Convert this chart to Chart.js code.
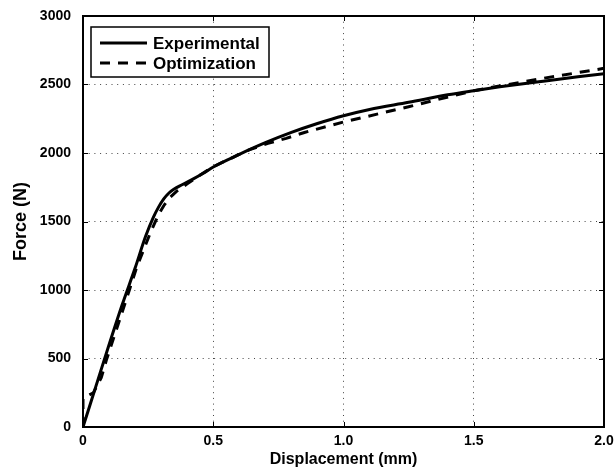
<!DOCTYPE html>
<html>
<head>
<meta charset="utf-8">
<script src="https://cdn.jsdelivr.net/npm/chart.js@4.4.0/dist/chart.umd.min.js"></script>
<style>
  html, body { margin: 0; padding: 0; background: #fff; }
  canvas { display: block; }
</style>
</head>
<body>
<canvas id="chart" width="614" height="473"></canvas>
<script>
// Experimental force-displacement curve
const expDisp  = [0, 0.05, 0.10, 0.15, 0.20, 0.24, 0.27, 0.29, 0.31, 0.33, 0.35, 0.38, 0.42, 0.46, 0.50, 0.60, 0.70, 0.80, 0.90, 1.00, 1.10, 1.25, 1.40, 1.50, 1.60, 1.75, 1.90, 2.00];
const expForce = [0, 300, 600, 890, 1160, 1390, 1530, 1605, 1665, 1708, 1737, 1768, 1807, 1850, 1898, 1990, 2075, 2150, 2215, 2272, 2318, 2370, 2425, 2455, 2483, 2520, 2556, 2578];

// Optimization (fitted) curve
const optDisp  = [0, 0, 0.04, 0.07, 0.09, 0.135, 0.178, 0.205, 0.232, 0.259, 0.29, 0.31, 0.33, 0.36, 0.40, 0.45, 0.50, 0.60, 0.64, 0.71, 0.78, 0.85, 1.00, 1.25, 1.50, 1.75, 2.00];
const optForce = [0, 210, 250, 360, 490, 750, 1000, 1160, 1290, 1420, 1550, 1615, 1668, 1722, 1775, 1840, 1900, 1990, 2025, 2070, 2107, 2150, 2226, 2338, 2455, 2540, 2618];

const seriesNames = ['Experimental', 'Optimization'];
const xTickLabels = ['0', '0.5', '1.0', '1.5', '2.0'];
const yTickLabels = ['0', '500', '1000', '1500', '2000', '2500', '3000'];

const FONT = "'Liberation Sans', Arial, Helvetica, sans-serif";
const toPoints = (xs, ys) => xs.map((x, i) => ({ x: x, y: ys[i] }));

// box around the axes, inward ticks and the framed legend
const framePlugin = {
  id: 'frame',
  afterDraw(chart) {
    const { ctx, chartArea: a, scales } = chart;
    ctx.save();
    ctx.strokeStyle = '#000';
    ctx.setLineDash([]);
    ctx.lineWidth = 1;
    ctx.beginPath();
    scales.x.ticks.forEach(t => {
      const px = Math.round(scales.x.getPixelForValue(t.value)) + 0.5;
      ctx.moveTo(px, a.bottom); ctx.lineTo(px, a.bottom - 5);
      ctx.moveTo(px, a.top); ctx.lineTo(px, a.top + 5);
    });
    scales.y.ticks.forEach(t => {
      const py = Math.round(scales.y.getPixelForValue(t.value)) + 0.5;
      ctx.moveTo(a.left, py); ctx.lineTo(a.left + 5, py);
      ctx.moveTo(a.right, py); ctx.lineTo(a.right - 5, py);
    });
    ctx.stroke();
    ctx.lineWidth = 2;
    ctx.strokeRect(a.left, a.top, a.right - a.left, a.bottom - a.top);

    // legend
    const bx = a.left + 8, by = a.top + 11, bw = 178, bh = 50;
    ctx.fillStyle = '#fff';
    ctx.fillRect(bx, by, bw, bh);
    ctx.lineWidth = 1.5;
    ctx.strokeRect(bx, by, bw, bh);
    ctx.font = 'bold 17px ' + FONT;
    ctx.textBaseline = 'middle';
    ctx.fillStyle = '#000';
    chart.data.datasets.forEach((ds, i) => {
      const y = by + 16 + i * 20;
      ctx.lineWidth = 3;
      ctx.setLineDash(ds.borderDash || []);
      ctx.beginPath();
      ctx.moveTo(bx + 9, y);
      ctx.lineTo(bx + 56, y);
      ctx.stroke();
      ctx.setLineDash([]);
      ctx.fillText(ds.label, bx + 62, y + 1);
    });
    ctx.restore();
  }
};

new Chart(document.getElementById('chart'), {
  type: 'line',
  data: {
    datasets: [
      {
        label: seriesNames[0],
        data: toPoints(expDisp, expForce),
        borderColor: '#000',
        borderWidth: 3,
        pointRadius: 0,
        cubicInterpolationMode: 'monotone',
        fill: false
      },
      {
        label: seriesNames[1],
        data: toPoints(optDisp, optForce),
        borderColor: '#000',
        borderWidth: 3,
        borderDash: [10, 8],
        pointRadius: 0,
        tension: 0,
        fill: false
      }
    ]
  },
  options: {
    responsive: false,
    animation: false,
    devicePixelRatio: 1,
    layout: { padding: { top: 16, right: 10, left: 0, bottom: 0 } },
    plugins: {
      legend: { display: false },
      tooltip: { enabled: false }
    },
    scales: {
      x: {
        type: 'linear',
        min: 0,
        max: 2,
        ticks: {
          stepSize: 0.5,
          padding: 6,
          color: '#000',
          font: { family: FONT, size: 14, weight: 'bold' },
          callback: v => xTickLabels[Math.round(v * 2)]
        },
        grid: { color: '#444', lineWidth: 1, drawTicks: false },
        border: { display: false, dash: [1, 4.7] },
        title: {
          display: true,
          text: 'Displacement (mm)',
          color: '#000',
          font: { family: FONT, size: 16, weight: 'bold' },
          padding: { top: 0, bottom: 4 }
        },
        afterFit: s => { s.height = 46; s.paddingLeft = 0; s.paddingRight = 0; }
      },
      y: {
        min: 0,
        max: 3000,
        ticks: {
          stepSize: 500,
          padding: 12,
          color: '#000',
          font: { family: FONT, size: 14, weight: 'bold' },
          callback: v => yTickLabels[Math.round(v / 500)]
        },
        grid: { color: '#444', lineWidth: 1, drawTicks: false },
        border: { display: false, dash: [1, 4.7] },
        title: {
          display: true,
          text: 'Force (N)',
          color: '#000',
          font: { family: FONT, size: 18, weight: 'bold' },
          padding: { top: 10, bottom: 0 }
        },
        afterFit: s => { s.width = 83; s.paddingTop = 0; s.paddingBottom = 0; }
      }
    }
  },
  plugins: [framePlugin]
});
</script>
</body>
</html>
